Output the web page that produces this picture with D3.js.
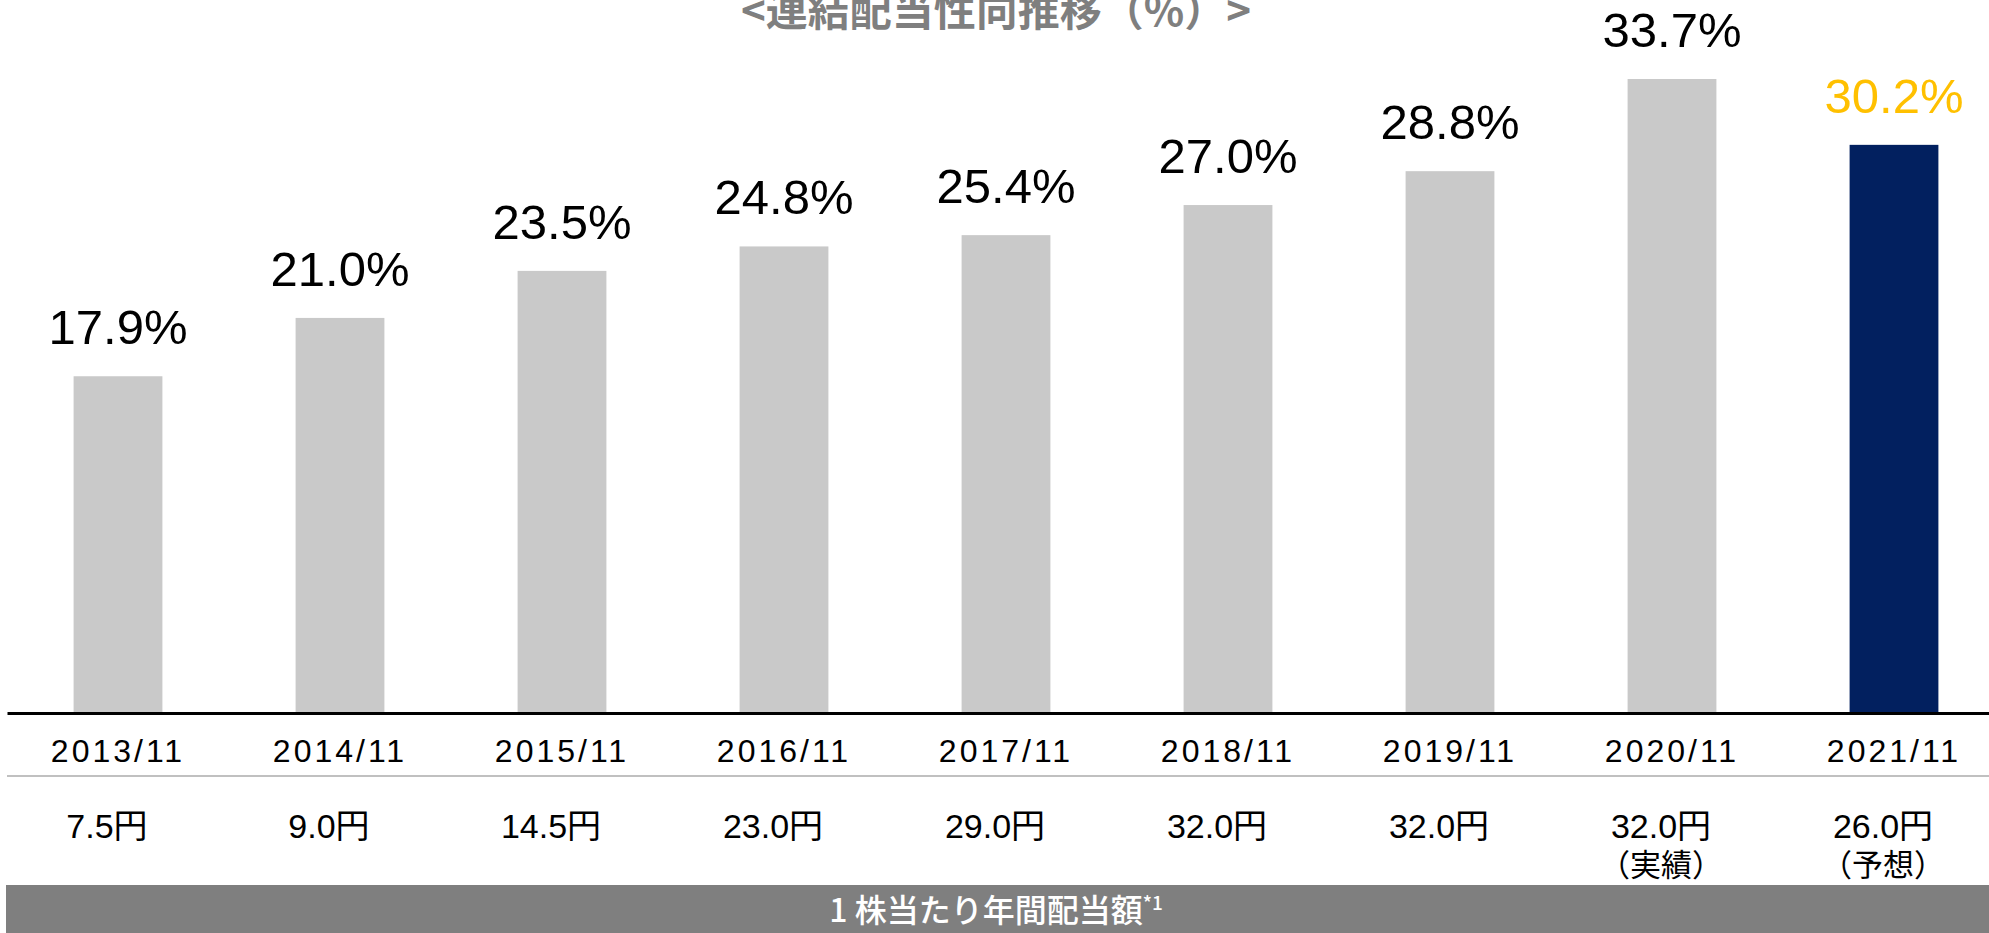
<!DOCTYPE html>
<html>
<head>
<meta charset="utf-8">
<script src="https://cdn.jsdelivr.net/npm/d3@7"></script>
<style>
  body { margin: 0; background: #fff; }
  svg { display: block; }
  text { font-family: "Liberation Sans", Arial, "Noto Sans CJK JP", sans-serif; }
  .jp { font-family: "Noto Sans CJK JP", sans-serif; }
</style>
</head>
<body>
<svg width="1989" height="933"></svg>
<script>
// 決算期
const years = ['2013/11','2014/11','2015/11','2016/11','2017/11','2018/11','2019/11','2020/11','2021/11'];
// 連結配当性向 (%)
const payout = [17.9, 21.0, 23.5, 24.8, 25.4, 27.0, 28.8, 33.7, 30.2];
// 1株当たり年間配当額
const dividend = ['7.5円','9.0円','14.5円','23.0円','29.0円','32.0円','32.0円','32.0円','26.0円'];
const dividendNote = ['','','','','','','','（実績）','（予想）'];

const svg = d3.select('svg');
const W = 1989, H = 933;
const baseY = 713;

const x = d3.scaleBand()
  .domain(years)
  .range([7, 2005])
  .paddingInner(0.6)
  .paddingOuter(0.3);

const y = d3.scaleLinear()
  .domain([0, 33.7])
  .range([baseY, 79]);

const last = years[years.length - 1];
const cx = d => x(d) + x.bandwidth() / 2;

// タイトル
svg.append('text')
  .attr('class', 'jp')
  .attr('x', 996).attr('y', 26)
  .attr('text-anchor', 'middle')
  .attr('font-size', 42)
  .attr('font-weight', 'bold')
  .attr('fill', '#7f7f7f')
  .text('<連結配当性向推移（%）>');

// 棒
svg.append('g').selectAll('rect')
  .data(years)
  .enter().append('rect')
  .attr('x', d => x(d))
  .attr('width', x.bandwidth())
  .attr('y', (d, i) => y(payout[i]))
  .attr('height', (d, i) => baseY - y(payout[i]))
  .attr('fill', d => d === last ? '#02205f' : '#c9c9c9');

// 値ラベル
svg.append('g').selectAll('text')
  .data(years)
  .enter().append('text')
  .attr('x', cx)
  .attr('y', (d, i) => y(payout[i]) - 32)
  .attr('text-anchor', 'middle')
  .attr('font-size', 49)
  .attr('fill', d => d === last ? '#ffc000' : '#000')
  .text((d, i) => payout[i].toFixed(1) + '%');

// 軸
const axis = svg.append('g')
  .attr('transform', `translate(0,${baseY})`)
  .call(d3.axisBottom(x).tickSize(0).tickPadding(26));
axis.select('.domain').attr('stroke', '#000').attr('stroke-width', 3);
axis.selectAll('.tick text')
  .attr('font-size', 32)
  .attr('letter-spacing', 3)
  .attr('fill', '#000')
  .attr('font-family', '"Liberation Sans", Arial, sans-serif');

// 区切り線
svg.append('line')
  .attr('x1', 7).attr('x2', W)
  .attr('y1', 776).attr('y2', 776)
  .attr('stroke', '#c0c0c0').attr('stroke-width', 2);

// 配当額
const divG = svg.append('g').selectAll('text')
  .data(years)
  .enter().append('text')
  .attr('x', d => cx(d) - 11)
  .attr('y', 838)
  .attr('text-anchor', 'middle')
  .attr('font-size', 34)
  .attr('fill', '#000');
divG.append('tspan')
  .text(d => dividend[years.indexOf(d)]);
divG.filter(d => dividendNote[years.indexOf(d)] !== '')
  .append('tspan')
  .attr('x', d => cx(d) - 11)
  .attr('dy', 38)
  .attr('class', 'jp')
  .attr('font-size', 31)
  .text(d => dividendNote[years.indexOf(d)]);

// 下部帯
svg.append('rect')
  .attr('x', 6).attr('y', 885)
  .attr('width', W - 6).attr('height', H - 885)
  .attr('fill', '#7f7f7f');

const band = svg.append('text')
  .attr('class', 'jp')
  .attr('x', 996).attr('y', 922)
  .attr('text-anchor', 'middle')
  .attr('font-size', 32)
  .attr('font-weight', 500)
  .attr('fill', '#fff');
band.append('tspan').text('1 株当たり年間配当額');
band.append('tspan').attr('font-size', 19).attr('dy', -12).text('*1');
</script>
</body>
</html>
